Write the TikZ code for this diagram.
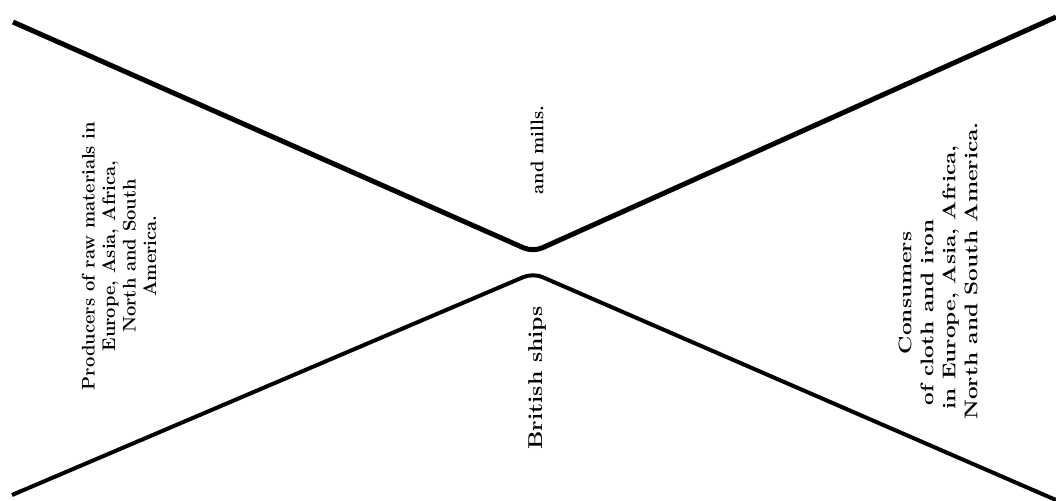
\documentclass[tikz,border=0pt]{standalone}
\usetikzlibrary{calc}

\begin{document}
\begin{tikzpicture}[x=0.6pt,y=-0.6pt,
    arm/.style={line width=2.4pt,line join=round,rounded corners=6pt},
    note/.style={rotate=90,align=center,font=\bfseries\fontsize{11}{12.3}\selectfont,inner sep=0pt}]
  \useasboundingbox (0,0) rectangle (1056,501);
  \coordinate (tl) at (13,22);
  \coordinate (tr) at (1056,17);
  \coordinate (bl) at (12,495);
  \coordinate (br) at (1056,500);
  \coordinate (top) at (533,252);
  \coordinate (bot) at (533,273);
  \draw[arm,line width=3pt] (tl) -- (top) -- (tr);
  \draw[arm] (bl) -- (bot) -- (br);
  \node[note] (producers) at (119,256) {Producers of raw materials in\\Europe, Asia, Africa,\\North and South\\America.};
  \node[note] (mills) at (537,150) {and mills.};
  \node[note,font=\bfseries\fontsize{12}{14}\selectfont] (ships) at (537,378)
    {\scalebox{1.15}[1]{British ships}};
  \node[note,anchor=west,font=\bfseries\fontsize{11}{13.2}\selectfont] (consumers) at (940,420)
    {\scalebox{1.23}[1]{\begin{tabular}{@{}l@{}}
      \hspace*{32pt}Consumers\\
      \hspace*{7pt}of cloth and iron\\
      \hspace*{5pt}in Europe, Asia, Africa,\\
      North and South America.
    \end{tabular}}};
\end{tikzpicture}
\end{document}
